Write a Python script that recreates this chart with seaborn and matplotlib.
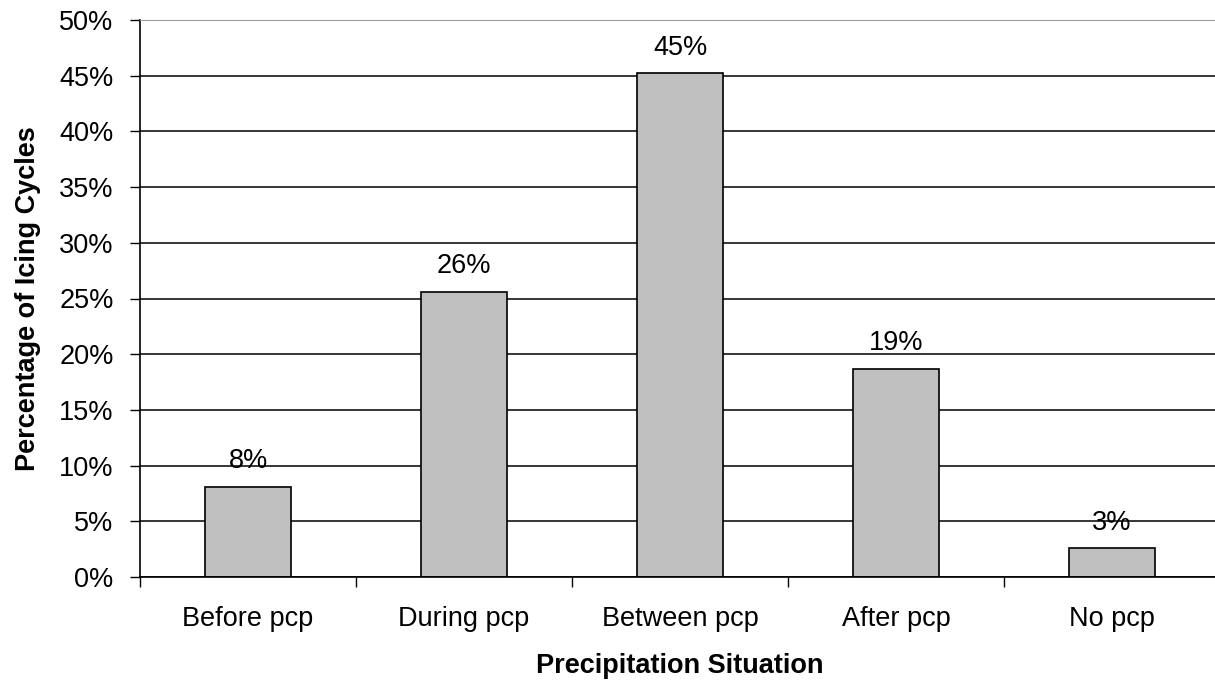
import matplotlib
matplotlib.use("Agg")
import matplotlib.pyplot as plt
import seaborn as sns
import numpy as np

# 数据
situations = ['Before pcp', 'During pcp', 'Between pcp', 'After pcp', 'No pcp']
percent = [8.1, 25.6, 45.2, 18.7, 2.6]
bar_labels = ['8%', '26%', '45%', '19%', '3%']
y_ticks = [0, 5, 10, 15, 20, 25, 30, 35, 40, 45, 50]

sns.set_style("white")
plt.rcParams['font.family'] = ['Liberation Sans', 'DejaVu Sans']
plt.rcParams['text.color'] = 'black'
plt.rcParams['axes.labelcolor'] = 'black'
plt.rcParams['xtick.color'] = 'black'
plt.rcParams['ytick.color'] = 'black'

fig = plt.figure(figsize=(12.15, 6.86), dpi=100)
ax = fig.add_axes([140 / 1215, 109 / 686, 1080 / 1215, 557 / 686])

sns.barplot(x=situations, y=percent, color='#C0C0C0', edgecolor='black',
            linewidth=1.2, width=0.4, saturation=1, ax=ax)

fs = 19.5
ax.set_ylim(0, 50)
ax.set_xlim(-0.5, len(situations) - 0.5)
ax.set_yticks(y_ticks)
ax.set_yticklabels([f'{t}%' for t in y_ticks], fontsize=fs)
ax.tick_params(axis='y', direction='out', length=7, width=1, pad=12, left=True)
ax.tick_params(axis='x', which='major', length=0, labelsize=fs, pad=21)
ax.set_xticks(np.arange(-0.5, len(situations)), minor=True)
ax.tick_params(axis='x', which='minor', direction='out', length=7, width=1, bottom=True)

# 网格线
ax.set_axisbelow(True)
ax.yaxis.grid(True, color='black', linewidth=1.1)

ax.spines['right'].set_visible(False)
ax.spines['top'].set_color('#a0a0a0')
ax.spines['left'].set_color('black')
ax.spines['bottom'].set_color('black')
ax.spines['left'].set_linewidth(1.2)
ax.spines['bottom'].set_linewidth(1.2)

ax.bar_label(ax.containers[0], labels=bar_labels, padding=9, fontsize=fs)

ax.set_xlabel('Precipitation Situation', fontsize=fs, fontweight='bold', labelpad=15)
ax.set_ylabel('Percentage of Icing Cycles', fontsize=fs, fontweight='bold', labelpad=13)

fig.savefig('out.png', dpi=100)
